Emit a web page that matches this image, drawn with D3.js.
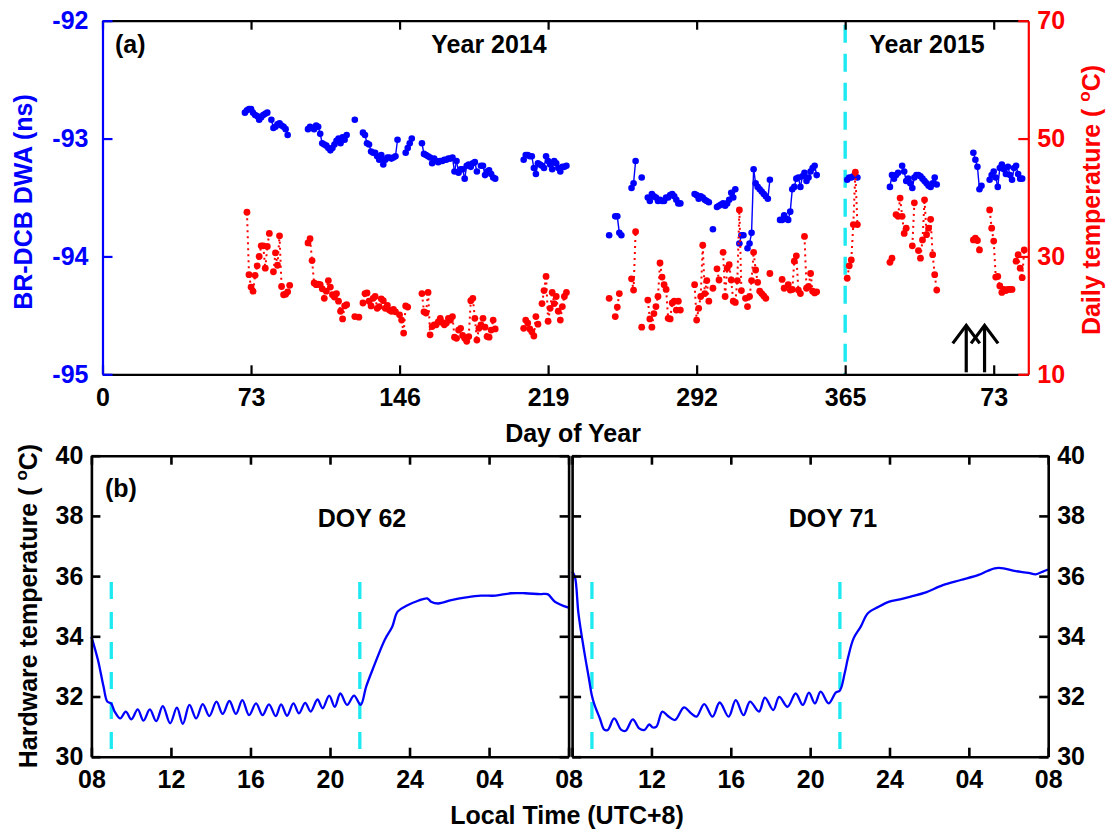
<!DOCTYPE html>
<html><head><meta charset="utf-8">
<script src="https://cdn.jsdelivr.net/npm/d3@7"></script>
<style>
body{margin:0;background:#fff}
text{font-family:"Liberation Sans",Arial,Helvetica,sans-serif;font-weight:bold}
</style>
</head><body>
<svg id="chart" width="1110" height="832"></svg>
<script>
// ---------- DATA ----------
const xTickDays = [0,73,146,219,292,365,438];
const xTickLabels = ["0","73","146","219","292","365","73"];
const dwaTicks = [-95,-94,-93,-92];
const dwaTickLabels = ["-95","-94","-93","-92"];
const tempTicks = [10,30,50,70];
const yearBoundary = 365;
const arrowDays = [424.5, 433.5];

// BR-DCB DWA (ns) per day of year (2014 days, 2015 days continue from 365)
const dwaData = [
[70,-92.78],[71,-92.76],[72,-92.75],[73,-92.75],[74,-92.78],[75,-92.80],[76,-92.81],[77,-92.84],[78,-92.82],[79,-92.80],[80,-92.79],[81,-92.78],[83,-92.84],[84,-92.91],[85,-92.90],[86,-92.88],[87,-92.87],[88,-92.89],[89,-92.90],[90,-92.92],[91,-92.97],
[101,-92.92],[102,-92.90],[103,-92.91],[104,-92.92],[105,-92.89],[106,-92.90],[107,-92.96],
[108,-93.04],[109,-93.05],[110,-93.06],[111,-93.08],[112,-93.10],[113,-93.08],[114,-93.05],[115,-93.02],[116,-93.00],[117,-93.04],[118,-92.99],[119,-93.01],[120,-92.97],
[124,-92.84],
[128,-92.95],[129,-92.97],[130,-93.04],[131,-93.05],[132,-93.11],[133,-93.12],[134,-93.12],[135,-93.15],[136,-93.18],[137,-93.14],[138,-93.22],[139,-93.18],[140,-93.16],[141,-93.16],[142,-93.17],[143,-93.16],[144,-93.15],[145,-93.01],
[149,-93.12],[150,-93.08],[151,-93.04],[152,-93.00],
[157,-93.04],[158,-93.13],[159,-93.14],[160,-93.15],[161,-93.16],[162,-93.21],[163,-93.17],[164,-93.19],[165,-93.20],[166,-93.19],[167,-93.19],[168,-93.18],[169,-93.18],[170,-93.17],[171,-93.17],[172,-93.16],[173,-93.28],[174,-93.19],[175,-93.29],[176,-93.26],[177,-93.26],[178,-93.34],[179,-93.23],[180,-93.22],[181,-93.24],[182,-93.21],[183,-93.20],[184,-93.28],[186,-93.23],[187,-93.23],[188,-93.31],[189,-93.28],[190,-93.27],[191,-93.30],[192,-93.33],[193,-93.34],
[207,-93.18],[208,-93.14],[209,-93.14],[210,-93.15],[211,-93.15],[212,-93.25],[213,-93.30],[214,-93.21],[215,-93.22],[216,-93.23],[217,-93.25],[218,-93.15],[219,-93.19],[220,-93.22],[221,-93.26],[222,-93.19],[223,-93.21],[224,-93.25],[225,-93.28],[226,-93.24],[227,-93.24],[228,-93.23],
[249,-93.82],[252,-93.66],[253,-93.66],[254,-93.80],[255,-93.82],
[260,-93.42],[261,-93.38],[262,-93.19],[265,-93.33],
[268,-93.50],[269,-93.53],[270,-93.47],[271,-93.49],[272,-93.50],[273,-93.53],[274,-93.52],[275,-93.53],[276,-93.53],[277,-93.50],[278,-93.50],[279,-93.48],[280,-93.47],[281,-93.49],[282,-93.52],[283,-93.55],[284,-93.55],
[291,-93.47],[292,-93.48],[293,-93.51],[294,-93.49],[295,-93.50],[296,-93.52],[297,-93.53],[298,-93.54],[300,-93.77],[302,-93.58],[303,-93.57],[304,-93.56],[305,-93.55],[306,-93.57],[307,-93.55],[308,-93.52],[309,-93.46],[310,-93.50],[311,-93.43],
[313,-93.89],[314,-93.82],[315,-93.82],[317,-93.93],[318,-93.89],[319,-93.80],[320,-93.26],[321,-93.38],[322,-93.41],[323,-93.43],[324,-93.45],[325,-93.47],[326,-93.49],[327,-93.51],[328,-93.35],
[333,-93.69],[334,-93.69],[335,-93.65],[336,-93.68],[337,-93.69],[338,-93.62],[339,-93.43],[340,-93.41],[341,-93.34],[342,-93.33],[343,-93.41],[344,-93.32],[345,-93.29],[346,-93.36],[347,-93.33],[348,-93.28],[349,-93.25],[350,-93.23],[351,-93.31],
[366,-93.35],[367,-93.33],[368,-93.33],[369,-93.32],[370,-93.32],[371,-93.33],
[387,-93.41],[388,-93.31],[389,-93.34],[390,-93.31],[391,-93.29],[393,-93.23],[394,-93.28],[395,-93.36],[396,-93.34],[397,-93.38],[398,-93.42],[399,-93.33],[400,-93.31],[401,-93.31],[402,-93.32],[403,-93.34],[404,-93.36],[405,-93.38],[406,-93.40],[407,-93.41],[408,-93.38],[409,-93.33],[410,-93.39],
[428,-93.12],[429,-93.18],[430,-93.24],[431,-93.43],[432,-93.40],[436,-93.35],[437,-93.31],[438,-93.28],[439,-93.33],[440,-93.41],[441,-93.25],[442,-93.22],[443,-93.26],[444,-93.30],[445,-93.24],[446,-93.31],[447,-93.35],[448,-93.25],[449,-93.23],[450,-93.30],[451,-93.34],[452,-93.34]
];

// Daily temperature (°C)
const tempData = [
[71,37.5],[72,26.9],[73,24.8],[74,24.1],[75,26.8],[76,28.4],[77,30.0],[78,31.8],[79,31.8],[80,28.0],[81,31.7],[82,33.9],[84,27.4],[85,30.6],[86,28.5],[87,33.5],[88,24.9],[89,23.5],[90,23.6],[91,24.0],[92,25.1],
[101,32.3],[102,33.0],[103,29.3],[104,25.5],[105,25.2],[106,25.3],[107,25.2],[108,24.5],[109,22.9],[110,24.1],[111,25.9],[112,24.8],[113,23.5],[114,23.1],[115,23.7],[116,22.4],[117,20.7],[118,19.4],[119,21.6],[120,21.8],
[124,19.8],[126,19.7],[128,22.1],[129,23.7],[130,23.8],[131,22.4],[132,21.6],[133,22.9],[134,23.2],[135,21.2],[136,21.5],[137,22.8],[138,22.5],[139,21.2],[140,21.7],[141,20.9],[142,20.7],[143,21.0],[144,20.6],[146,20.1],[147,19.2],[148,17.0],[149,21.6],[150,21.4],
[157,23.7],[158,20.6],[159,20.4],[160,23.9],[161,16.7],[162,18.1],[163,18.4],[164,18.4],[165,18.9],[166,19.5],[167,18.8],[168,18.4],[169,18.7],[170,19.5],[171,19.2],[172,19.8],[173,16.3],[174,16.1],[175,17.5],[176,17.8],[177,16.6],[178,16.1],[179,15.6],[180,16.4],[181,22.5],[182,22.9],[183,19.5],[184,15.8],[185,17.8],[186,18.4],[187,19.5],[188,18.0],[189,16.4],[190,16.3],[191,17.5],[192,19.2],[193,17.7],
[207,17.8],[208,19.2],[209,18.7],[210,17.7],[211,17.2],[212,16.5],[213,19.8],[214,18.5],[216,22.0],[217,24.2],[218,26.6],[219,19.0],[220,21.2],[221,23.9],[222,22.0],[223,23.2],[224,20.7],[225,19.2],[226,21.5],[227,23.2],[228,23.9],
[249,22.9],[252,19.8],[253,21.4],[254,23.7],[260,26.2],[261,24.3],[262,34.2],[265,18.0],
[268,22.6],[269,19.4],[270,18.0],[271,20.3],[272,21.5],[273,23.2],[274,28.9],[275,26.5],[276,25.2],[277,24.4],[278,19.5],[279,19.4],[280,22.1],[281,22.4],[282,20.9],[283,22.4],[284,20.9],
[291,25.2],[292,19.2],[293,21.2],[294,23.2],[295,31.9],[296,23.7],[297,25.9],[298,22.4],[300,24.6],[302,27.9],[303,26.0],[305,30.7],[306,23.2],[307,28.0],[308,28.6],[309,26.0],[310,22.4],[311,22.2],[312,25.9],[313,37.9],[314,24.2],[316,22.9],[317,21.5],[318,23.2],[319,25.9],[320,30.7],[321,27.7],[322,25.6],[323,24.1],[324,23.7],[325,23.3],[326,22.9],[328,27.1],
[334,26.1],[335,24.6],[337,25.2],[338,24.3],[339,24.4],[340,29.2],[341,30.1],[342,24.3],[343,23.7],[345,33.4],[346,24.6],[347,24.9],[348,27.1],[349,24.1],[350,23.8],[351,24.0],
[366,26.3],[367,28.4],[368,29.4],[369,35.4],[370,44.3],[371,35.4],
[387,29.0],[388,29.7],[390,37.1],[391,36.8],[392,39.9],[393,36.8],[394,33.9],[395,34.8],[398,31.8],[399,39.1],[401,31.0],[402,29.7],[403,32.8],[404,39.6],[405,33.7],[406,34.8],[407,36.3],[408,30.3],[409,26.9],[410,24.3],
[428,32.8],[429,33.1],[430,32.7],[431,31.1],[436,37.9],[437,34.8],[438,32.6],[439,26.5],[440,26.6],[441,25.0],[442,23.9],[443,24.4],[444,24.2],[445,24.4],[446,24.4],[447,24.4],[449,29.2],[450,30.3],[451,28.0],[452,26.4],[453,31.1]
];

// Panel (b)
const hourTicks = [8,12,16,20,24,28,32];
const hourLabels = ["08","12","16","20","24","04","08"];
const hwTicks = [30,32,34,36,38,40];
const switchHours = [9.0, 21.5];
const switchTop = 35.8;

const doy62Hours = [8.00,8.33,8.61,8.80,8.99,9.17,9.45,9.73,10.01,10.33,10.62,10.94,11.26,11.59,11.96,12.30,12.60,12.93,13.27,13.60,13.93,14.29,14.60,14.94,15.27,15.59,15.93,16.28,16.61,16.93,17.27,17.54,17.84,18.16,18.44,18.75,19.03,19.37,19.63,19.96,20.24,20.52,20.86,21.21,21.54,21.82,22.20,22.75,23.13,23.40,23.87,24.43,24.89,25.08,25.45,26.10,26.85,27.59,28.33,29.08,29.82,30.57,30.94,31.31,32.00];
const doy62Temps = [33.99,33.21,32.33,31.83,31.77,31.50,31.27,31.50,31.24,31.57,31.20,31.57,31.18,31.68,31.11,31.63,31.09,31.72,31.27,31.75,31.35,31.83,31.42,31.85,31.42,31.88,31.38,31.77,31.38,31.74,31.35,31.74,31.36,31.77,31.44,31.79,31.50,31.90,31.61,32.03,31.66,32.10,31.72,32.03,31.72,32.33,32.99,33.88,34.32,34.82,35.02,35.18,35.26,35.15,35.09,35.20,35.29,35.35,35.35,35.43,35.43,35.40,35.40,35.15,34.95];

const doy71Hours = [8.00,8.14,8.32,8.60,8.86,8.99,9.13,9.40,9.62,9.80,10.12,10.48,10.70,11.06,11.38,11.65,11.89,12.07,12.25,12.55,12.83,13.19,13.64,14.00,14.27,14.66,15.08,15.44,15.89,16.25,16.64,16.97,17.42,17.72,18.14,18.44,18.86,19.27,19.63,19.94,20.24,20.53,20.93,21.29,21.50,21.74,21.92,22.19,22.55,22.90,23.45,23.99,24.53,25.07,25.79,26.69,27.59,28.49,28.94,29.30,29.75,30.29,31.01,31.37,31.73,32.00];
const doy71Temps = [36.15,35.98,34.76,33.54,32.55,32.05,31.72,31.27,30.90,30.89,31.27,30.89,30.86,31.24,30.94,30.89,31.07,30.97,31.00,31.50,31.35,31.22,31.64,31.44,31.33,31.75,31.33,31.80,31.33,31.88,31.38,31.83,31.50,31.96,31.55,31.99,31.66,32.10,31.72,32.13,31.77,32.16,31.77,32.13,32.20,32.77,33.32,33.93,34.32,34.76,34.98,35.15,35.23,35.32,35.45,35.70,35.87,36.04,36.17,36.26,36.26,36.17,36.11,36.06,36.15,36.22];

// ---------- DRAW ----------
const BLUE = "#0000ff", RED = "#ff0000", CYAN = "#1de9f0", FS = 25;
const svg = d3.select("#chart");

function styleAxis(g, color, width) {
  g.select(".domain").attr("stroke", color).attr("stroke-width", width);
  g.selectAll(".tick line").attr("stroke", color).attr("stroke-width", width);
  g.selectAll(".tick text").attr("fill", color).attr("font-size", FS)
    .attr("font-family", '"Liberation Sans",Arial,sans-serif').attr("font-weight", "bold");
}

// ===== Panel (a) =====
const A = {l:102.5, r:1028.3, t:20.7, b:374.3};
const xA = d3.scaleLinear().domain([0,455]).range([A.l, A.r]);
const yDwa = d3.scaleLinear().domain([-95,-92]).range([A.b, A.t]);
const yTemp = d3.scaleLinear().domain([10,70]).range([A.b, A.t]);

// year boundary
svg.append("line").attr("x1", xA(yearBoundary)).attr("x2", xA(yearBoundary))
  .attr("y1", A.t).attr("y2", A.b).attr("stroke", CYAN).attr("stroke-width", 3.4)
  .attr("stroke-dasharray", "18,11").attr("stroke-dashoffset", -4);

// axes
const topAx = svg.append("g").attr("transform", `translate(0,${A.t})`)
  .call(d3.axisTop(xA).tickValues(xTickDays).tickFormat("").tickSizeInner(-9).tickSizeOuter(0));
styleAxis(topAx, "#000", 2.2);
const botAx = svg.append("g").attr("transform", `translate(0,${A.b})`)
  .call(d3.axisBottom(xA).tickValues(xTickDays).tickFormat((d,i)=>xTickLabels[i]).tickSizeInner(-9).tickSizeOuter(0).tickPadding(14));
styleAxis(botAx, "#000", 2.2);
const leftAx = svg.append("g").attr("transform", `translate(${A.l},0)`)
  .call(d3.axisLeft(yDwa).tickValues(dwaTicks).tickFormat((d,i)=>dwaTickLabels[i]).tickSizeInner(-10).tickSizeOuter(0).tickPadding(14));
styleAxis(leftAx, BLUE, 2.2);
const rightAx = svg.append("g").attr("transform", `translate(${A.r},0)`)
  .call(d3.axisRight(yTemp).tickValues(tempTicks).tickSizeInner(-10).tickSizeOuter(0).tickPadding(9));
styleAxis(rightAx, RED, 2.2);

// connecting lines (consecutive days)
function pairs(data, maxGap) {
  const out = [];
  for (let i = 1; i < data.length; i++) if (data[i][0] - data[i-1][0] <= maxGap) out.push([data[i-1], data[i]]);
  return out;
}
svg.append("g").selectAll("line").data(pairs(dwaData, 1)).join("line")
  .attr("x1", d=>xA(d[0][0])).attr("y1", d=>yDwa(d[0][1]))
  .attr("x2", d=>xA(d[1][0])).attr("y2", d=>yDwa(d[1][1]))
  .attr("stroke", BLUE).attr("stroke-width", 1.4);
svg.append("g").selectAll("circle").data(dwaData).join("circle")
  .attr("cx", d=>xA(d[0])).attr("cy", d=>yDwa(d[1])).attr("r", 3.3).attr("fill", BLUE);

svg.append("g").selectAll("line").data(pairs(tempData, 1)).join("line")
  .attr("x1", d=>xA(d[0][0])).attr("y1", d=>yTemp(d[0][1]))
  .attr("x2", d=>xA(d[1][0])).attr("y2", d=>yTemp(d[1][1]))
  .attr("stroke", RED).attr("stroke-width", 2).attr("stroke-dasharray", "2,4");
svg.append("g").selectAll("circle").data(tempData).join("circle")
  .attr("cx", d=>xA(d[0])).attr("cy", d=>yTemp(d[1])).attr("r", 3.4).attr("fill", RED);

// arrows marking the two days of panel (b)
const arrowG = svg.append("g").attr("stroke", "#000").attr("stroke-width", 3.2).attr("fill", "none");
arrowDays.forEach(d => {
  const x = xA(d), yTip = yTemp(18.3), yBase = A.b - 2;
  arrowG.append("line").attr("x1", x).attr("x2", x).attr("y1", yTip + 1).attr("y2", yBase);
  arrowG.append("path").attr("d", `M${x-13.5},${yTip+18}L${x},${yTip}L${x+13.5},${yTip+18}`);
});

// texts panel a
svg.append("text").attr("x", 115).attr("y", 53).attr("font-size", FS).text("(a)");
svg.append("text").attr("x", 489).attr("y", 53).attr("text-anchor", "middle").attr("font-size", FS).text("Year 2014");
svg.append("text").attr("x", 927).attr("y", 53).attr("text-anchor", "middle").attr("font-size", FS).text("Year 2015");
svg.append("text").attr("x", 573).attr("y", 442).attr("text-anchor", "middle").attr("font-size", FS).text("Day of Year");
svg.append("text").attr("transform", "translate(32,202) rotate(-90)").attr("text-anchor", "middle")
  .attr("font-size", FS).attr("fill", BLUE).text("BR-DCB DWA (ns)");
const rl = svg.append("text").attr("transform", "translate(1100,200) rotate(-90)").attr("text-anchor", "middle")
  .attr("font-size", FS).attr("fill", RED);
rl.append("tspan").text("Daily temperature ( ");
rl.append("tspan").attr("font-size", 17).attr("dy", -10).text("o");
rl.append("tspan").attr("dy", 10).text("C)");

// ===== Panel (b) =====
const B = {t:455.7, b:756.7};
const panels = [
  {l:91.4, r:568.6, hours:doy62Hours, temps:doy62Temps, title:"DOY 62", tx:362, leftLabels:true},
  {l:572.1, r:1048.2, hours:doy71Hours, temps:doy71Temps, title:"DOY 71", tx:833, leftLabels:false}
];
const yH = d3.scaleLinear().domain([30,40]).range([B.b, B.t]);
panels.forEach((p, pi) => {
  const x = d3.scaleLinear().domain([8,32]).range([p.l, p.r]);
  const g = svg.append("g");
  // switch lines
  switchHours.forEach(h => {
    g.append("line").attr("x1", x(h)).attr("x2", x(h)).attr("y1", yH(switchTop)).attr("y2", B.b)
      .attr("stroke", CYAN).attr("stroke-width", 3.3).attr("stroke-dasharray", "17,13");
  });
  // data line
  const pts = p.hours.map((h,i)=>[h, p.temps[i]]);
  g.append("path").datum(pts).attr("fill", "none").attr("stroke", BLUE).attr("stroke-width", 2.3)
    .attr("stroke-linejoin", "round")
    .attr("d", d3.line().curve(d3.curveCatmullRom.alpha(0.5)).x(d=>x(d[0])).y(d=>yH(d[1])));
  // axes
  const labelsFmt = (d,i) => (pi === 1 && i === 0) ? "" : hourLabels[i];
  const bAx = g.append("g").attr("transform", `translate(0,${B.b})`)
    .call(d3.axisBottom(x).tickValues(hourTicks).tickFormat(labelsFmt).tickSizeInner(-9).tickSizeOuter(0).tickPadding(14));
  styleAxis(bAx, "#000", 2.6);
  const tAx = g.append("g").attr("transform", `translate(0,${B.t})`)
    .call(d3.axisTop(x).tickValues(hourTicks).tickFormat("").tickSizeInner(-9).tickSizeOuter(0));
  styleAxis(tAx, "#000", 2.6);
  const lAx = g.append("g").attr("transform", `translate(${p.l},0)`)
    .call(d3.axisLeft(yH).tickValues(hwTicks).tickFormat(p.leftLabels ? d3.format("d") : "").tickSizeInner(-9).tickSizeOuter(0).tickPadding(8));
  styleAxis(lAx, "#000", 2.6);
  const rAx = g.append("g").attr("transform", `translate(${p.r},0)`)
    .call(d3.axisRight(yH).tickValues(hwTicks).tickFormat(p.leftLabels ? "" : d3.format("d")).tickSizeInner(-9).tickSizeOuter(0).tickPadding(9));
  styleAxis(rAx, "#000", 2.6);
  g.append("text").attr("x", p.tx).attr("y", 527).attr("text-anchor", "middle").attr("font-size", FS).text(p.title);
});
svg.append("text").attr("x", 105).attr("y", 497).attr("font-size", FS).text("(b)");
svg.append("text").attr("x", 567).attr("y", 824).attr("text-anchor", "middle").attr("font-size", FS).text("Local Time (UTC+8)");
const hl = svg.append("text").attr("transform", "translate(37,606) rotate(-90)").attr("text-anchor", "middle").attr("font-size", FS);
hl.append("tspan").text("Hardware temperature ( ");
hl.append("tspan").attr("font-size", 17).attr("dy", -10).text("o");
hl.append("tspan").attr("dy", 10).text("C)");
</script>
</body></html>
